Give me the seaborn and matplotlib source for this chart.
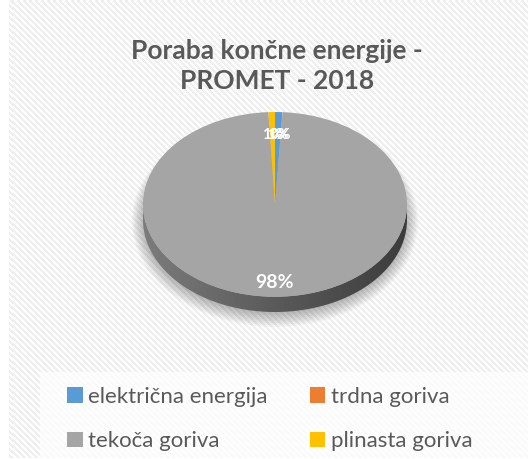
import numpy as np
import matplotlib
matplotlib.use("Agg")
import matplotlib.pyplot as plt
import seaborn as sns
from matplotlib.patches import Patch, Polygon, Ellipse, Rectangle
from matplotlib.colors import LinearSegmentedColormap

# data (shares in %)
categories = ['električna energija', 'trdna goriva', 'tekoča goriva', 'plinasta goriva']
shares = [0.9, 0.02, 98.3, 0.8]
colors = ['#5B9BD5', '#ED7D31', '#A5A5A5', '#FFC000']
title = 'Poraba končne energije -\nPROMET - 2018'

sns.set_style('white')
plt.rcParams['font.family'] = ['Lato', 'DejaVu Sans']
text_color = '#595959'

W, H = 528, 459
fig = plt.figure(figsize=(W / 100, H / 100), dpi=100)
fig.patch.set_facecolor('white')

# striped chart-area background (Excel texture)
bg = fig.add_axes([9 / W, 0, 1 - 9 / W, 1])
rows, cols = np.mgrid[0:H, 0:W - 9]
stripes = np.where((cols - rows) % 6 < 3, 0.935, 0.99)
bg.imshow(stripes, cmap='gray', vmin=0, vmax=1, aspect='auto', interpolation='nearest')
bg.add_patch(Rectangle((40 - 9, 372), W, H, facecolor='white', alpha=0.7, edgecolor='none'))
bg.set_xlim(0, W - 9)
bg.set_ylim(H, 0)
bg.axis('off')

# pie axes: the circle is squashed into an ellipse to fake the 3D tilt
depth = 0.165
ax = fig.add_axes([143 / W, 1 - 312 / H, 264 / W, 200 / H])

# soft shadow under the pie
for k in range(8):
    ax.add_patch(Ellipse((0, -depth - 0.02), 2 * (1 + 0.012 * k), 2 * (1 + 0.02 * k),
                         facecolor='black', alpha=0.035, edgecolor='none', zorder=0,
                         clip_on=False))

# side band of the 3D pie with a left-to-right shading
t = np.linspace(np.pi, 2 * np.pi, 300)
upper = np.column_stack([np.cos(t), np.sin(t)])
lower = np.column_stack([np.cos(t[::-1]), np.sin(t[::-1]) - depth])
band = Polygon(np.vstack([upper, lower]), closed=True, facecolor='none',
               edgecolor='none', transform=ax.transData)
ax.add_patch(band)
side_cmap = LinearSegmentedColormap.from_list('side', ['#7c7c7c', '#5a5a5a', '#3c3c3c'])
grad = np.linspace(0, 1, 256).reshape(1, -1)
im = ax.imshow(grad, extent=(-1, 1, -1 - depth, 0), cmap=side_cmap, aspect='auto', zorder=1)
im.set_clip_path(band)
im.set_clip_on(True)

wedges, texts, autotexts = ax.pie(
    shares, colors=colors, startangle=90, counterclock=False,
    autopct='%.0f%%', pctdistance=0.8,
    wedgeprops=dict(linewidth=0),
    textprops=dict(color='white', fontweight='bold', fontsize=11))

for w, at in zip(wedges, autotexts):
    w.set_zorder(2)
    w.set_clip_on(False)
    mid = np.deg2rad((w.theta1 + w.theta2) / 2)
    big = (w.theta2 - w.theta1) > 180
    r = 0.85 if big else 0.75
    at.set_position((r * np.cos(mid), r * np.sin(mid)))
    at.set_zorder(3)
    if big:
        at.set_fontsize(14)

ax.set_aspect('auto')
ax.set_xlim(-1, 1)
ax.set_ylim(-1 - depth, 1)
ax.axis('off')

# title
fig.text(277 / W, 1 - 66 / H, title, ha='center', va='center', fontsize=19,
         fontweight='bold', color=text_color, linespacing=1.32)

# legend, row-major like the reference
handles = [Patch(facecolor=c, edgecolor='none', label=l) for c, l in zip(colors, categories)]
order = [0, 2, 1, 3]
fig.legend([handles[i] for i in order], [categories[i] for i in order], ncol=2,
           loc='upper left', bbox_to_anchor=(67 / W, 1 - 387 / H), frameon=False,
           fontsize=16, handlelength=0.7, handleheight=0.7, handletextpad=0.25,
           columnspacing=1.9, labelspacing=1.1, labelcolor=text_color,
           borderpad=0, borderaxespad=0)

fig.savefig('out.png', dpi=100)
